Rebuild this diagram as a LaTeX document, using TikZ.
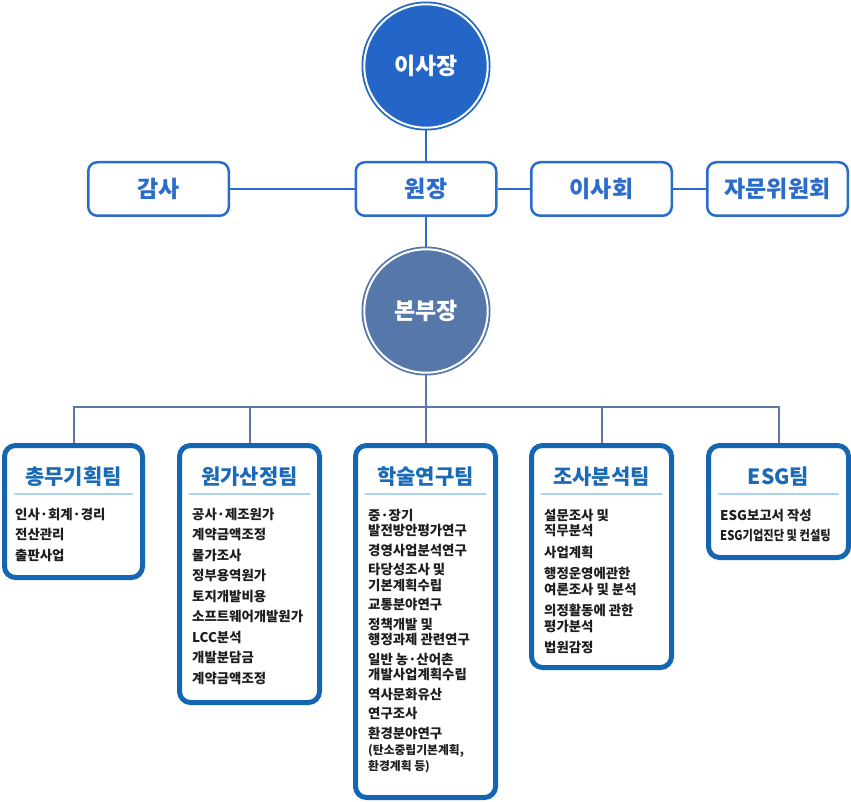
\documentclass[tikz,border=0pt]{standalone}
\usepackage{fontspec}
\usepackage{graphicx}
\setmainfont{Noto Sans CJK KR}
\usetikzlibrary{backgrounds}
\definecolor{chair}{HTML}{2466C8}
\definecolor{topblue}{HTML}{2A6BCB}
\definecolor{bonbu}{HTML}{5677A9}
\definecolor{teamblue}{HTML}{1466B4}
\definecolor{titleblue}{HTML}{1A6BB7}
\definecolor{slate}{HTML}{5B78A6}
\definecolor{sepblue}{HTML}{A8D6F2}
\definecolor{itemtext}{HTML}{1E1E1E}
\begin{document}
\begin{tikzpicture}[x=1pt,y=-1pt,
 bigcircle/.style={circle, inner sep=0pt, minimum size=123.4pt, line width=1.8pt, double=white, double distance=2pt, font=\fontsize{23}{27}\selectfont\bfseries, text=white},
 topbox/.style={draw=topblue, line width=2.5pt, rounded corners=9pt, minimum width=140.5pt, minimum height=53.5pt, inner sep=0pt, fill=white, font=\fontsize{23}{27}\selectfont\bfseries, text=topblue},
 teambox/.style={draw=teamblue, line width=5pt, rounded corners=11pt, fill=white, inner sep=0pt, minimum width=140pt},
 teamtitle/.style={font=\fontsize{21}{25}\selectfont\bfseries, text=titleblue, inner sep=0pt},
 items/.style={anchor=north west, align=left, inner sep=0pt, font=\fontsize{13.4}{15.5}\selectfont\bfseries, text=itemtext},
 sepline/.style={draw=sepblue, line width=1.3pt},
 topline/.style={draw=topblue, line width=2pt},
 botline/.style={draw=slate, line width=2pt}]
\useasboundingbox (0,0) rectangle (851,802);

% top level
\node[bigcircle, draw=chair, fill=chair] (chair) at (426,66) {이사장};
\node[topbox] (gamsa) at (158.5,189) {감사};
\node[topbox] (wonjang) at (426,189) {원장};
\node[topbox] (isahoe) at (601.5,189) {이사회};
\node[topbox] (jamun) at (777.5,189) {자문위원회};
\node[bigcircle, draw=bonbu, fill=bonbu] (bonbu) at (426,311) {본부장};
\coordinate (bar) at (426,407);

% team boxes
\node[teambox, minimum width=138pt, minimum height=132pt] (t1) at (73.5,511.5) {};
\node[teambox, minimum height=257pt] (t2) at (249.5,574) {};
\node[teambox, minimum height=352pt] (t3) at (425.5,621.5) {};
\node[teambox, minimum height=222pt] (t4) at (601.5,556.5) {};
\node[teambox, minimum height=112pt] (t5) at (778.5,501.5) {};

% titles
\node[teamtitle] (h1) at (73.5,477) {총무기획팀};
\node[teamtitle] (h2) at (249.5,477) {원가산정팀};
\node[teamtitle] (h3) at (425.5,477) {학술연구팀};
\node[teamtitle] (h4) at (601.5,477) {조사분석팀};
\node[teamtitle] (h5) at (778.5,477) {ESG팀};

% separators
\draw[sepline] (14,494) -- (133,494);
\draw[sepline] (189,494) -- (310,494);
\draw[sepline] (365,494) -- (486,494);
\draw[sepline] (541,494) -- (662,494);
\draw[sepline] (718,494) -- (839,494);

% items
\node[items] (i1) at (15,506.5) {\rule{0pt}{12.5pt}인사·회계·경리\\[5pt]
전산관리\\[5pt]
출판사업};
\node[items] (i2) at (192,506.5) {\rule{0pt}{12.5pt}공사·제조원가\\[5pt]
계약금액조정\\[5pt]
물가조사\\[5pt]
정부용역원가\\[5pt]
토지개발비용\\[5pt]
소프트웨어개발원가\\[5pt]
LCC분석\\[5pt]
개발분담금\\[5pt]
계약금액조정};
\node[items] (i3) at (368,507.5) {\rule{0pt}{12.5pt}중·장기\\
발전방안평가연구\\[4pt]
경영사업분석연구\\[4pt]
타당성조사 및\\
기본계획수립\\[4pt]
교통분야연구\\[4pt]
정책개발 및\\
행정과제 관련연구\\[4pt]
일반 농·산어촌\\
개발사업계획수립\\[4pt]
역사문화유산\\[4pt]
연구조사\\[4pt]
환경분야연구\\[1pt]
{\fontsize{11.8}{13}\selectfont (탄소중립기본계획,}\\
{\fontsize{11.8}{13}\selectfont 환경계획 등)}};
\node[items] (i4) at (544,507.5) {\rule{0pt}{12.5pt}설문조사 및\\
직무분석\\[6pt]
사업계획\\[6pt]
행정운영에관한\\
여론조사 및 분석\\[6pt]
의정활동에 관한\\
평가분석\\[6pt]
법원감정};
\node[items] (i5) at (720,507.5) {\rule{0pt}{12.5pt}ESG보고서 작성\\[4.5pt]
\scalebox{0.84}[1]{ESG기업진단 및 컨설팅}};

% connectors
\begin{scope}[on background layer]
\draw[topline] (chair.south) -- (wonjang.north);
\draw[topline] (gamsa) -- (wonjang);
\draw[topline] (wonjang) -- (isahoe);
\draw[topline] (isahoe) -- (jamun);
\draw[topline] (wonjang.south) -- (bonbu.north);
\draw[botline] (bonbu.south) -- (bar);
\draw[botline] (t1.north) |- (bar) -| (t5.north);
\draw[botline] (t2.north) -- (t2.north |- bar);
\draw[botline] (t3.north) -- (t3.north |- bar);
\draw[botline] (t4.north) -- (t4.north |- bar);
\end{scope}
\end{tikzpicture}
\end{document}
